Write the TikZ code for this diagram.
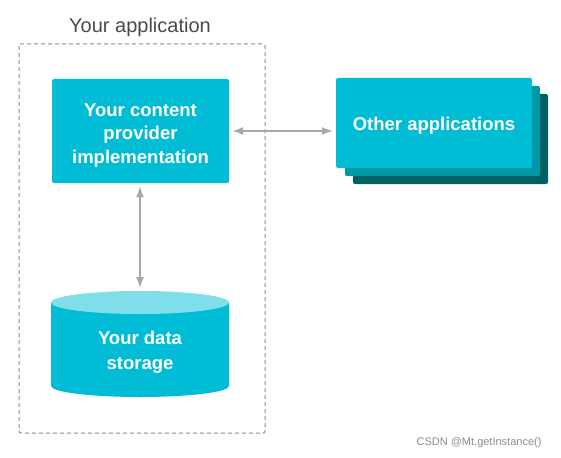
\documentclass[tikz,border=0pt]{standalone}
\usepackage{fontspec}
\setmainfont{Liberation Sans}
\usetikzlibrary{calc,arrows.meta,positioning}
\definecolor{cyanfront}{HTML}{00BCD4}
\definecolor{cyanmid}{HTML}{0097A7}
\definecolor{cyandeep}{HTML}{006064}
\definecolor{cyanlight}{HTML}{80DEEA}
\definecolor{arrowgray}{HTML}{A8A8A8}
\definecolor{dashgray}{HTML}{8C8C8C}
\definecolor{titlegray}{HTML}{4A4A4A}
\definecolor{markgray}{HTML}{8A8A8A}
\tikzset{
  appbox/.style={fill=cyanfront, rounded corners=2pt, text=white, align=center, inner sep=0pt,
    font=\bfseries\fontsize{18.5}{23.5}\selectfont},
  link/.style={draw=arrowgray, line width=1.4pt, {Latex[length=11pt,width=8pt]}-{Latex[length=11pt,width=8pt]},
    shorten >=3pt, shorten <=3pt}
}

\begin{document}
\begin{tikzpicture}[x=1pt,y=-1pt]
	\useasboundingbox (0,0) rectangle (561,457);
	%%%%% START %%%%%
	
	\node[text=titlegray, font=\fontsize{20}{24}\selectfont] (apptitle) at (140,27) {Your application};
	\draw[dashgray, line width=1pt, dash pattern=on 4pt off 3pt, rounded corners=2pt] (19,44) rectangle (265,433);
	
	\node[appbox, minimum width=177pt, minimum height=104pt] (provider) at (140.5,131) {\rule{0pt}{21pt}Your content\\provider\\implementation};
	
	% stack behind the other applications
	\fill[cyandeep, rounded corners=2pt] (353,94) rectangle (548,184);
	\fill[cyanmid, rounded corners=2pt] (345,86) rectangle (540,176);
	\node[appbox, minimum width=196pt, minimum height=90pt] (others) at (434,123) {\raisebox{-3pt}[\height][\depth]{Other applications}};
	
	% data storage cylinder
	\fill[cyanfront] (51,302.5) -- (51,386) arc[start angle=180, end angle=360, x radius=89pt, y radius=11pt] -- (229,302.5) -- cycle;
	\fill[cyanlight] (140,302.5) ellipse[x radius=89pt, y radius=11.5pt];
	\node[text=white, align=center, font=\bfseries\fontsize{18.5}{24.5}\selectfont] (storage) at (140,352.5) {Your data\\storage};
	\coordinate (storetop) at (140,291);
	
	\draw[link] (provider.east) -- (provider.east -| others.west);
	\draw[link] (provider.south -| storetop) -- (storetop);
	
	\node[text=markgray, font=\fontsize{11}{13}\selectfont, anchor=east] (credit) at (545,443) {CSDN @Mt.getInstance()};
	
	%%%%% END %%%%%
\end{tikzpicture}
\end{document}
